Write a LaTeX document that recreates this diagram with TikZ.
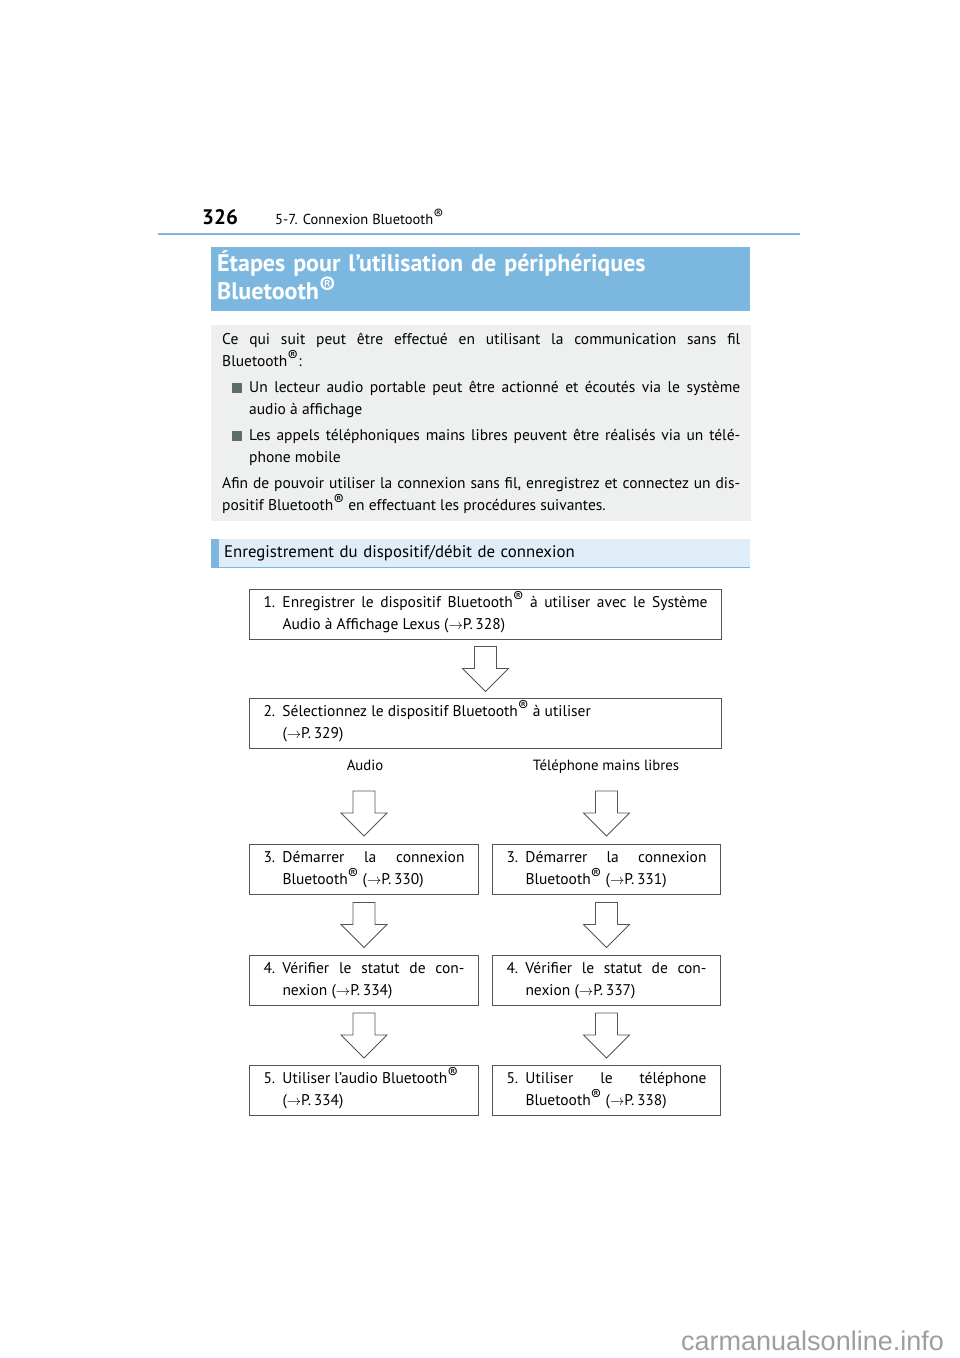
\documentclass[tikz,border=0pt]{standalone}
\usepackage{fontspec}
\setmainfont{PT Sans}
\newfontfamily\wmfont{Liberation Sans}
\usetikzlibrary{calc}
\definecolor{TitleClr}{RGB}{124,183,224}
\definecolor{InfoClr}{RGB}{238,240,240}
\definecolor{HeadClr}{RGB}{223,237,248}
\definecolor{BulletClr}{RGB}{94,108,108}
\definecolor{BoxClr}{RGB}{85,85,85}

\newcommand{\breg}[1][0.65ex]{\smash{\raisebox{#1}{\textregistered}}}
\newcommand{\pgref}[1]{($\rightarrow$P.\,#1)}
\newcommand{\stepno}[1]{\hangindent=19pt\hangafter=1\noindent\makebox[19pt][l]{#1}}
\newcommand{\bodyfont}{\fontsize{15.5}{22}\selectfont}
\newcommand{\sqbullet}{\llap{\textcolor{BulletClr}{\rule{9.5pt}{9.5pt}}\hspace{7.5pt}}}

\begin{document}
\begin{tikzpicture}[x=1pt,y=-1pt,
  flowbox/.style={draw=BoxClr, line width=1pt, anchor=north west, minimum height=50pt,
    inner xsep=14pt, inner ysep=0pt, align=justify, font=\bodyfont},
  arrowline/.style={draw=BoxClr, line width=0.8pt, fill=white},
  flowarrow/.pic={\path[arrowline] (-11,-22.5) -- (11,-22.5) -- (11,-0.5) -- (23,-0.5)
    -- (0,22.5) -- (-23,-0.5) -- (-11,-0.5) -- cycle;}]
\fill[white] (0,0) rectangle (960,1358);
\useasboundingbox (0,0) rectangle (960,1358);

% page header
\node[anchor=base west, inner sep=0pt, font=\bfseries\fontsize{21}{24}\selectfont] (pagenum) at (202,224) {326};
\node[anchor=base west, inner sep=0pt, font=\fontsize{14.5}{17}\selectfont] (chapter) at (275,224) {5-7. Connexion Bluetooth\breg};
\draw[TitleClr, line width=2.5pt] (158,234) -- (800,234);

% title
\node[fill=TitleClr, anchor=north west, text width=527pt, minimum height=64pt, inner xsep=6pt, inner ysep=0pt,
  align=left, text=white, font=\bfseries\fontsize{24}{28}\selectfont] (title) at (211,247)
  {\strut\'Etapes pour l’utilisation de périphériques\\ Bluetooth\breg[0.45ex]\strut};

% introduction
\node[fill=InfoClr, anchor=north west, text width=518pt, inner xsep=11pt, inner ysep=4pt,
  align=justify, font=\bodyfont] (intro) at (211,325) {\parskip=4pt
  \noindent\strut Ce qui suit peut être effectué en utilisant la communication sans fil\linebreak
  Bluetooth\breg:\par
  {\leftskip=27pt \noindent\sqbullet Un lecteur audio portable peut être actionné et écoutés via le système\linebreak
  audio à affichage\par
  \noindent\sqbullet Les appels téléphoniques mains libres peuvent être réalisés via un télé-\linebreak
  phone mobile\par}
  \noindent Afin de pouvoir utiliser la connexion sans fil, enregistrez et connectez un dis-\linebreak
  positif Bluetooth\breg{} en effectuant les procédures suivantes.\strut\par};

% section heading
\node[fill=HeadClr, anchor=north west, text width=513pt, minimum height=28pt, inner xsep=13pt, inner ysep=0pt,
  align=left, font=\fontsize{16.8}{20}\selectfont] (sechead) at (211,539)
  {\strut Enregistrement du dispositif/débit de connexion};
\fill[TitleClr] (sechead.north west) rectangle ($(sechead.south west)+(8,0)$);
\draw[TitleClr, line width=1.5pt] (sechead.south west) -- (sechead.south east);

% flow
\node[flowbox, text width=444pt] (step1) at (249,589)
  {\stepno{1.}\strut Enregistrer le dispositif Bluetooth\breg{} à utiliser avec le Système\linebreak
  Audio à Affichage Lexus \pgref{328}\strut\par};
\node[flowbox, text width=444pt] (step2) at (249,698)
  {\stepno{2.}\strut Sélectionnez le dispositif Bluetooth\breg{} à utiliser\newline
  \pgref{329}\strut\par};
\pic at ($(step1.south)!.5!(step2.north)$) {flowarrow};

\node[anchor=base, inner sep=0pt, font=\fontsize{14.8}{22}\selectfont] (audio) at (365,770) {Audio};
\node[anchor=base, inner sep=0pt, font=\fontsize{14.8}{22}\selectfont] (phone) at (606,770) {Téléphone mains libres};

\node[flowbox, text width=201pt] (audio3) at (249,844)
  {\stepno{3.}\strut Démarrer la connexion\linebreak Bluetooth\breg{} \pgref{330}\strut\par};
\node[flowbox, text width=200pt] (phone3) at (492,844)
  {\stepno{3.}\strut Démarrer la connexion\linebreak Bluetooth\breg{} \pgref{331}\strut\par};
\node[flowbox, text width=201pt] (audio4) at (249,955)
  {\stepno{4.}\strut Vérifier le statut de con-\linebreak nexion \pgref{334}\strut\par};
\node[flowbox, text width=200pt] (phone4) at (492,955)
  {\stepno{4.}\strut Vérifier le statut de con-\linebreak nexion \pgref{337}\strut\par};
\node[flowbox, text width=201pt] (audio5) at (249,1065)
  {\stepno{5.}\strut Utiliser l’audio Bluetooth\breg\newline \pgref{334}\strut\par};
\node[flowbox, text width=200pt] (phone5) at (492,1065)
  {\stepno{5.}\strut Utiliser le téléphone\linebreak Bluetooth\breg{} \pgref{338}\strut\par};

\pic at ($(audio3.north)+(0,-30.5)$) {flowarrow};
\pic at ($(phone3.north)+(0,-30.5)$) {flowarrow};
\pic at ($(audio3.south)!.5!(audio4.north)$) {flowarrow};
\pic at ($(phone3.south)!.5!(phone4.north)$) {flowarrow};
\pic at ($(audio4.south)!.5!(audio5.north)$) {flowarrow};
\pic at ($(phone4.south)!.5!(phone5.north)$) {flowarrow};

\node[anchor=base west, inner sep=0pt, text=black!38, font=\wmfont\fontsize{27}{30}\selectfont] (watermark) at (681,1350) {carmanualsonline.info};
\end{tikzpicture}
\end{document}
